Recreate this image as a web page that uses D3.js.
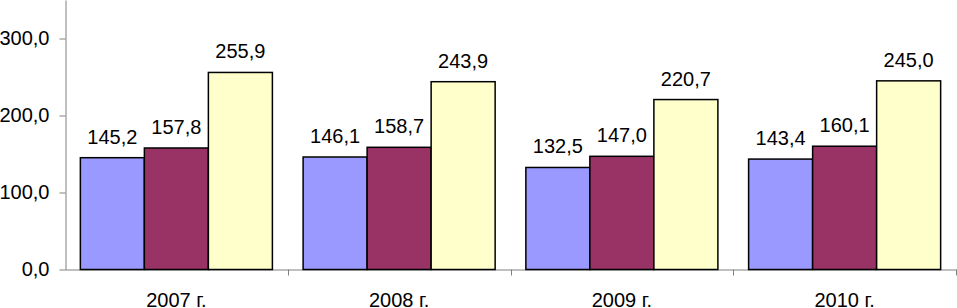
<!DOCTYPE html>
<html>
<head>
<meta charset="utf-8">
<script src="https://cdn.jsdelivr.net/npm/d3@7"></script>
<style>
  body { margin: 0; background: #fff; }
  text { font-family: "Liberation Sans", Arial, sans-serif; fill: #000; }
</style>
</head>
<body>
<div id="chart"></div>
<script>
// Chart data
const years = ['2007 г.', '2008 г.', '2009 г.', '2010 г.'];
const seriesNames = ['s1', 's2', 's3'];
const series1 = [145.2, 146.1, 132.5, 143.4];
const series2 = [157.8, 158.7, 147.0, 160.1];
const series3 = [255.9, 243.9, 220.7, 245.0];
const yTicks = [0, 100, 200, 300];
const colors = ['#9999ff', '#993366', '#ffffcc'];

const width = 957, height = 308;
const fmt = v => d3.format('.1f')(v).replace('.', ',');

const svg = d3.select('#chart')
  .append('svg')
  .attr('width', width)
  .attr('height', height);

// Scales
const x = d3.scaleBand()
  .domain(years)
  .range([65, 956])
  .padding(0);

const xInner = d3.scaleBand()
  .domain(seriesNames)
  .range([0, x.bandwidth()])
  .paddingInner(0)
  .paddingOuter(0.24);

const y = d3.scaleLinear()
  .domain([0, 350])
  .range([269.5, 0]);

// Y axis
const yAxis = svg.append('g')
  .attr('transform', 'translate(65.5,0)')
  .call(d3.axisLeft(y).tickValues(yTicks).tickFormat(fmt).tickSize(6).tickSizeOuter(0).tickPadding(10));
yAxis.selectAll('path, line').attr('stroke', '#808080');
yAxis.selectAll('text').style('font-size', '20px').attr('font-family', null);

// X axis
const xAxis = svg.append('g')
  .attr('transform', `translate(0,${y(0)})`)
  .call(d3.axisBottom(x).tickSize(0).tickSizeOuter(0).tickPadding(23));
xAxis.select('.domain').attr('stroke', '#808080');
xAxis.selectAll('text').style('font-size', '20px').attr('font-family', null);

// Category boundary ticks
const bounds = years.map(d => x(d)).concat([x(years[years.length - 1]) + x.bandwidth()]);
svg.append('g')
  .selectAll('line')
  .data(bounds.slice(1))
  .enter().append('line')
  .attr('x1', d => Math.round(d) + 0.5)
  .attr('x2', d => Math.round(d) + 0.5)
  .attr('y1', y(0))
  .attr('y2', y(0) + 6)
  .attr('stroke', '#808080');

// Bars
const rows = [];
years.forEach((yr, i) => {
  [series1, series2, series3].forEach((s, j) => {
    rows.push({ year: yr, key: seriesNames[j], value: s[i], color: colors[j] });
  });
});

svg.selectAll('.bar')
  .data(rows)
  .enter().append('rect')
  .attr('class', 'bar')
  .attr('x', d => x(d.year) + xInner(d.key))
  .attr('width', xInner.bandwidth())
  .attr('y', d => y(d.value))
  .attr('height', d => y(0) - y(d.value))
  .attr('fill', d => d.color)
  .attr('stroke', '#000')
  .attr('stroke-width', 1.5);

// Value labels
svg.selectAll('.label')
  .data(rows)
  .enter().append('text')
  .attr('class', 'label')
  .attr('x', d => x(d.year) + xInner(d.key) + xInner.bandwidth() / 2)
  .attr('y', d => y(d.value) - 14)
  .attr('text-anchor', 'middle')
  .style('font-size', '20px')
  .text(d => fmt(d.value));
</script>
</body>
</html>
